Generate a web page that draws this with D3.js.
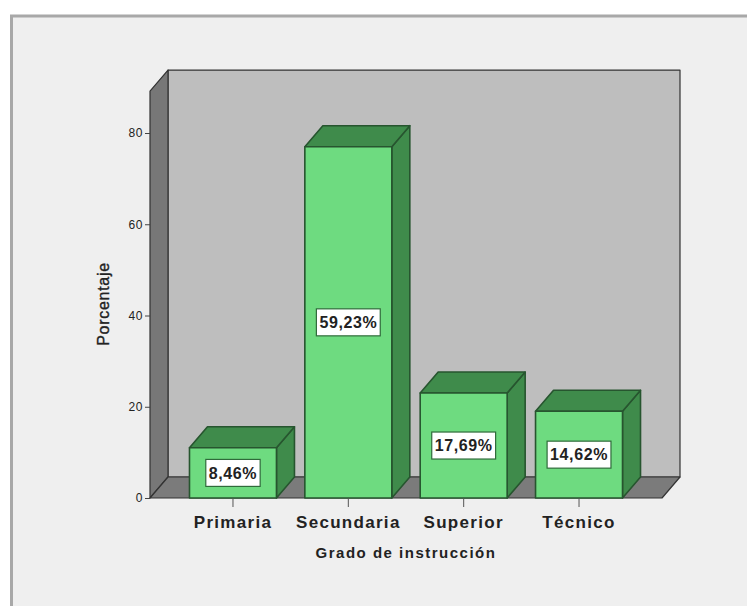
<!DOCTYPE html>
<html lang="es">
<head>
<meta charset="utf-8">
<title>Grado de instrucción</title>
<script src="https://cdn.jsdelivr.net/npm/d3@7"></script>
<style>
  html, body { margin: 0; padding: 0; background: #ffffff; }
  svg { display: block; }
  text { font-family: "Liberation Sans", Arial, sans-serif; fill: #222222; }
</style>
</head>
<body>
<svg id="chart" width="747" height="606"></svg>
<script>
// Respondents per education level; the printed percentages are shares of the total.
const categories = ["Primaria", "Secundaria", "Superior", "Técnico"];
const counts = [11, 77, 23, 19];
const yTicks = [0, 20, 40, 60, 80];
const xTitle = "Grado de instrucción";
const yTitle = "Porcentaje";

const svg = d3.select("#chart");
const total = d3.sum(counts);
const pct = d3.formatLocale({ decimal: ",", thousands: ".", grouping: [3], currency: ["", ""] }).format(".2f");

// Oblique offset of the 3D box (back face relative to the front face)
const depthX = 18, depthY = -21;

const x = d3.scaleBand().domain(categories).range([175.3, 636.7]).paddingInner(0.246).paddingOuter(0.123);
const y = d3.scaleLinear().domain([0, 80]).range([498, 133]);
const yMax = 89.2;

// Panel behind the plot
svg.append("rect").attr("x", 11.5).attr("y", 16).attr("width", 745).attr("height", 600)
  .attr("fill", "#efefef").attr("stroke", "#a8a8a8").attr("stroke-width", 3);

const floorL = 150, floorR = 662;
const poly = pts => pts.map(p => p.join(",")).join(" ");
const box = svg.append("g").attr("stroke", "#333333").attr("stroke-width", 1.2).attr("stroke-linejoin", "round");

// Back wall
box.append("polygon")
  .attr("points", poly([[floorL + depthX, y(yMax) + depthY], [floorR + depthX, y(yMax) + depthY], [floorR + depthX, y(0) + depthY], [floorL + depthX, y(0) + depthY]]))
  .attr("fill", "#bebebe");
// Left wall
box.append("polygon")
  .attr("points", poly([[floorL, y(yMax)], [floorL + depthX, y(yMax) + depthY], [floorL + depthX, y(0) + depthY], [floorL, y(0)]]))
  .attr("fill", "#777777");
// Floor
box.append("polygon")
  .attr("points", poly([[floorL, y(0)], [floorL + depthX, y(0) + depthY], [floorR + depthX, y(0) + depthY], [floorR, y(0)]]))
  .attr("fill", "#7b7b7b");

// Bars: side and top faces, then the front face
const bars = svg.append("g").selectAll("g").data(categories.map((c, i) => ({ c, v: counts[i] }))).join("g")
  .attr("stroke", "#27552f").attr("stroke-width", 1.6).attr("stroke-linejoin", "round");

bars.append("polygon").attr("fill", "#3f8b4b").attr("points", d => {
  const r = x(d.c) + x.bandwidth(), t = y(d.v), b = y(0);
  return poly([[r, t], [r + depthX, t + depthY], [r + depthX, b + depthY], [r, b]]);
});
bars.append("polygon").attr("fill", "#3f8b4b").attr("points", d => {
  const l = x(d.c), r = l + x.bandwidth(), t = y(d.v);
  return poly([[l, t], [l + depthX, t + depthY], [r + depthX, t + depthY], [r, t]]);
});
bars.append("rect").attr("fill", "#6edb80")
  .attr("x", d => x(d.c)).attr("y", d => y(d.v))
  .attr("width", x.bandwidth()).attr("height", d => y(0) - y(d.v));

// Value labels centred in each front face, boxes sized to their text
const labels = svg.append("g").selectAll("g").data(categories.map((c, i) => ({ c, v: counts[i] }))).join("g")
  .attr("transform", d => `translate(${x(d.c) + x.bandwidth() / 2},${(y(d.v) + y(0)) / 2})`);
const labelBoxes = labels.append("rect").attr("y", -13.5).attr("height", 27)
  .attr("fill", "#ffffff").attr("stroke", "#2f6b3a").attr("stroke-width", 1.2);
const labelTexts = labels.append("text").attr("text-anchor", "middle").attr("dy", "0.36em")
  .attr("font-size", 16).attr("font-weight", "bold").attr("letter-spacing", 0.6)
  .text(d => pct(d.v / total * 100) + "%");
labelBoxes.each(function (d, i) {
  const w = labelTexts.nodes()[i].getComputedTextLength() + 6;
  d3.select(this).attr("x", -w / 2).attr("width", w);
});

// Axes
const yAxis = svg.append("g").attr("transform", `translate(${floorL},0)`)
  .call(d3.axisLeft(y).tickValues(yTicks).tickSize(5).tickPadding(2));
yAxis.select(".domain").remove();
yAxis.selectAll("line").attr("stroke", "#444444");
yAxis.selectAll("text").attr("font-size", 12).attr("letter-spacing", 0.6)
  .attr("font-family", '"Liberation Sans", Arial, sans-serif').attr("fill", "#444444");

const xAxis = svg.append("g").attr("transform", `translate(0,${y(0)})`)
  .call(d3.axisBottom(x).tickSize(9).tickPadding(9));
xAxis.select(".domain").remove();
xAxis.selectAll("line").attr("stroke", "#555555");
xAxis.selectAll("text").attr("font-size", 17).attr("font-weight", "bold")
  .attr("font-family", '"Liberation Sans", Arial, sans-serif').attr("fill", "#222222")
  .attr("letter-spacing", 1.3);

// Axis titles
svg.append("text").attr("x", 406).attr("y", 558).attr("text-anchor", "middle")
  .attr("font-size", 15).attr("font-weight", "bold").attr("letter-spacing", 1.5).text(xTitle);
svg.append("text").attr("transform", "translate(109,304) rotate(-90)").attr("text-anchor", "middle")
  .attr("font-size", 16).attr("letter-spacing", 0.7).attr("stroke", "#222222").attr("stroke-width", 0.35).text(yTitle);
</script>
</body>
</html>
